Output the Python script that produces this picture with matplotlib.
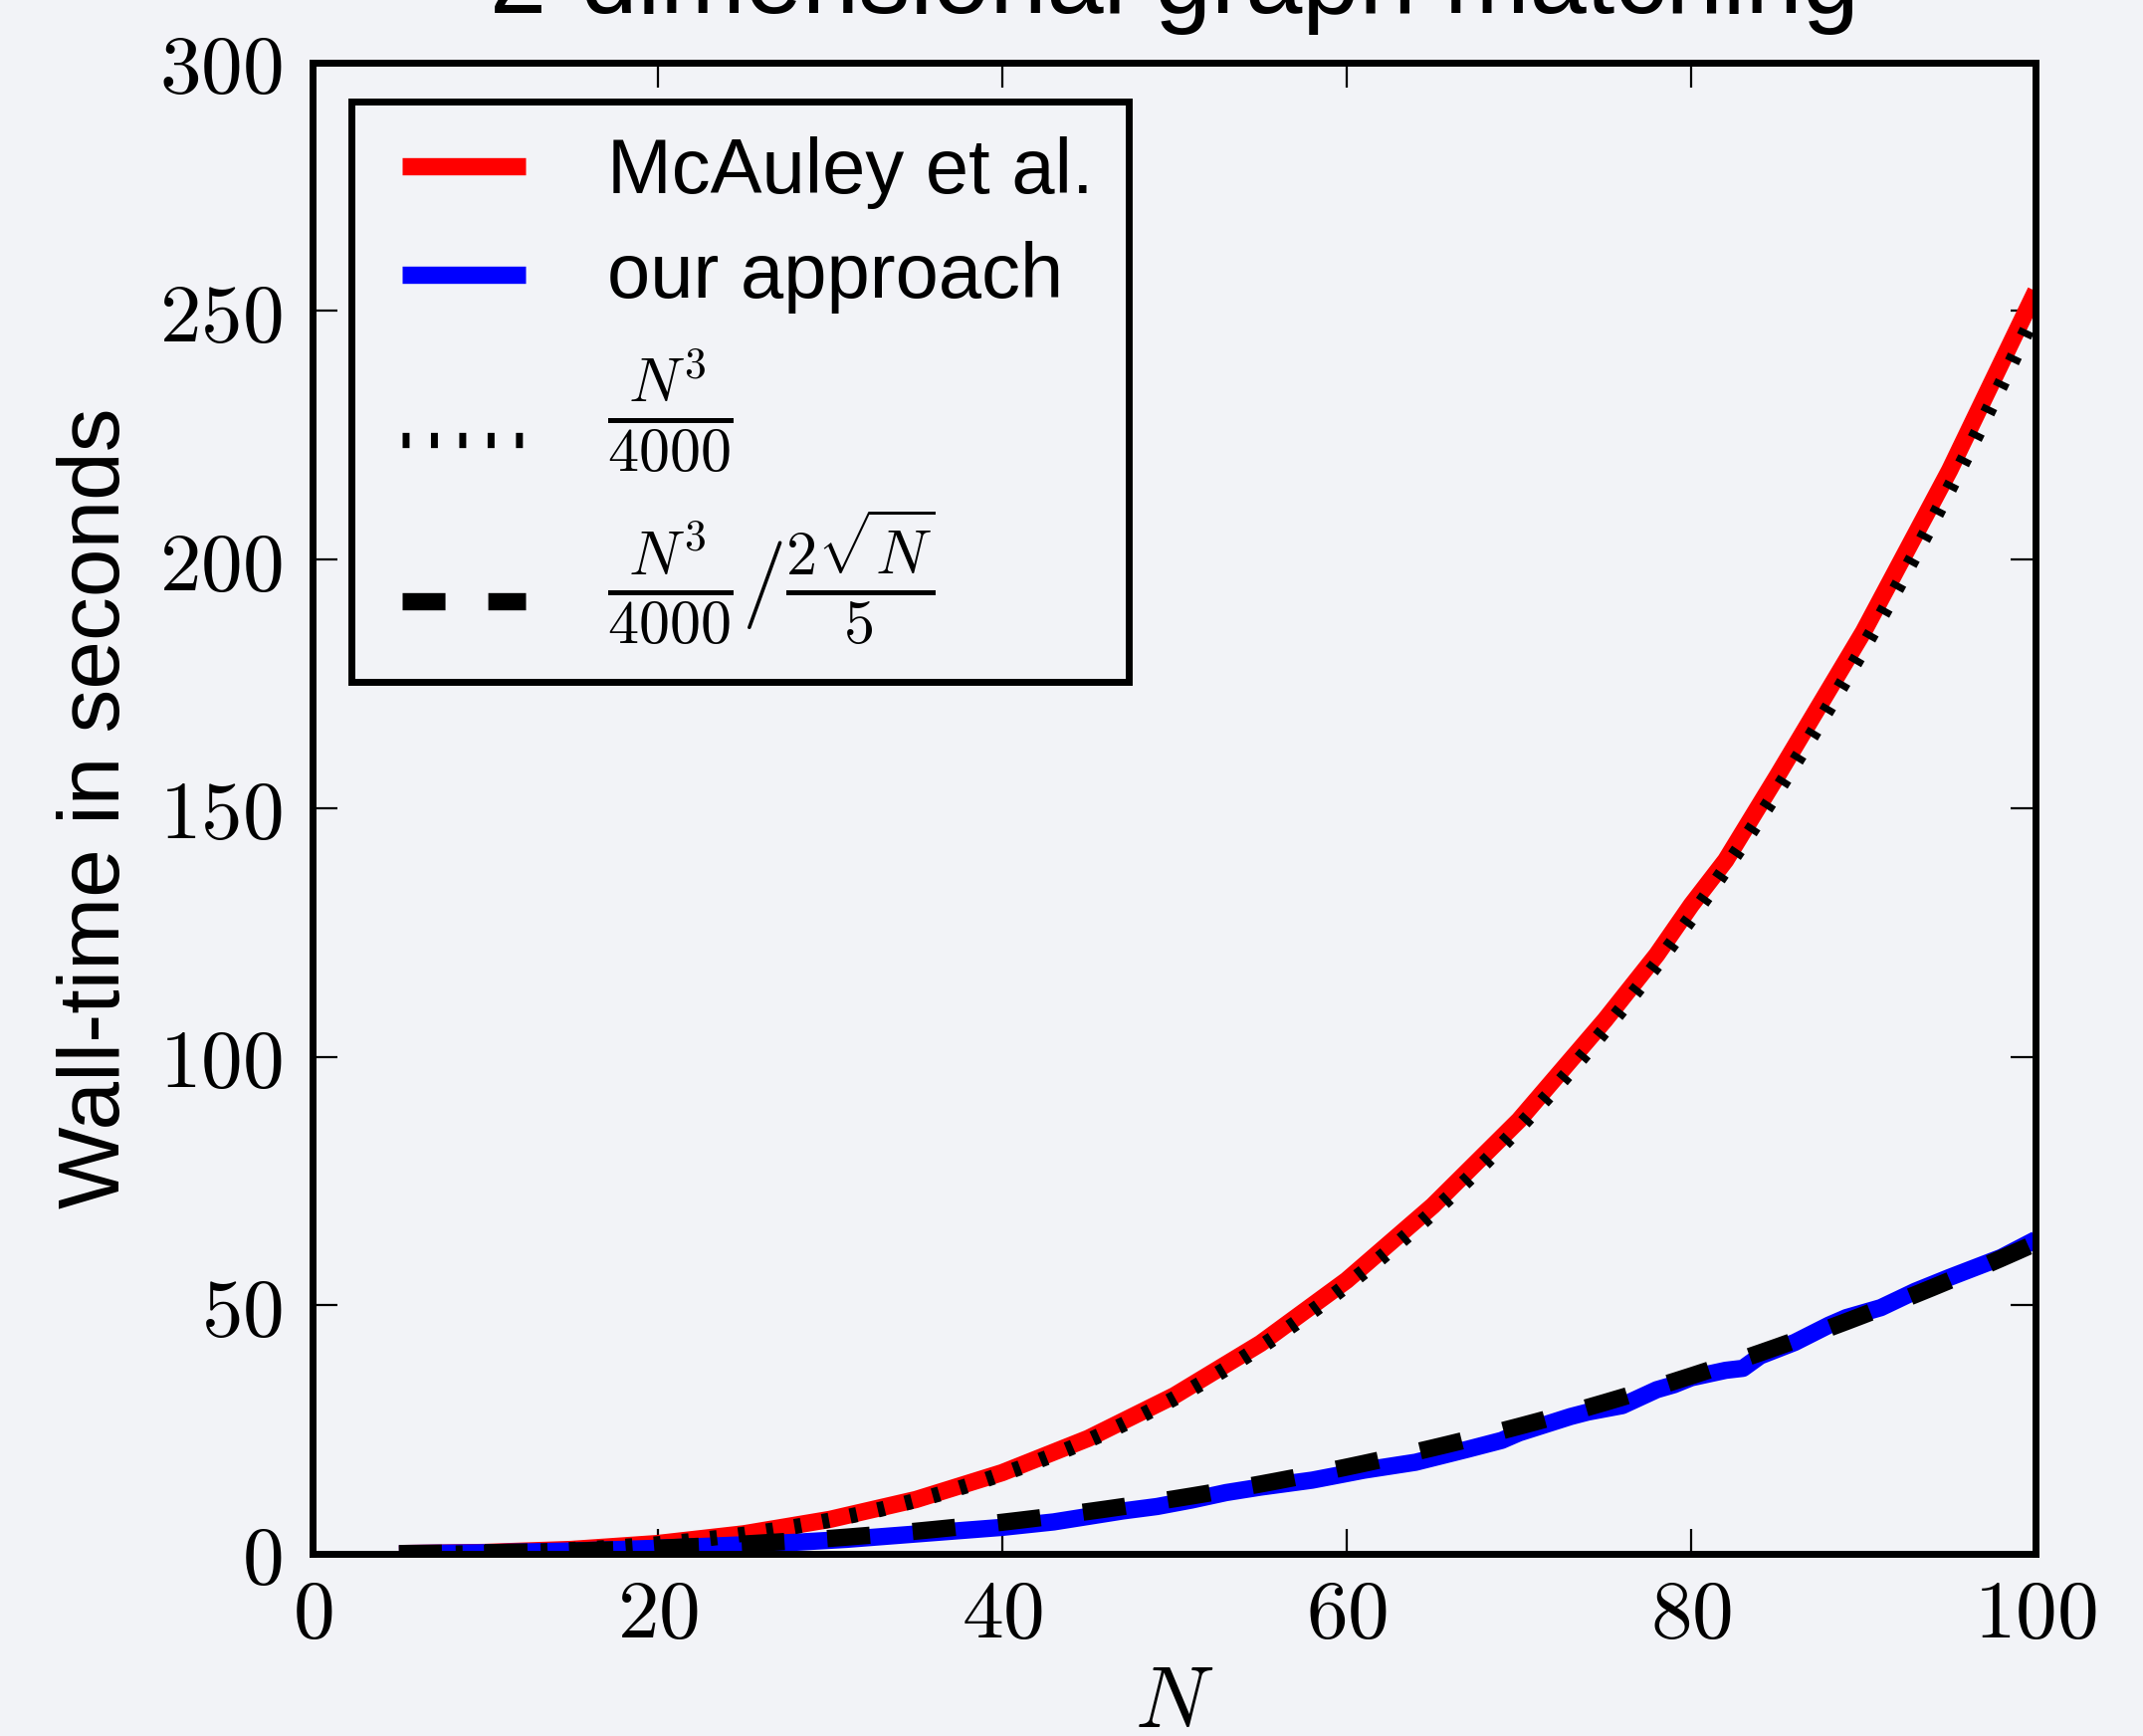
import numpy as np
import matplotlib
matplotlib.use('Agg')
import matplotlib.pyplot as plt
from matplotlib.ticker import FuncFormatter
from matplotlib.legend_handler import HandlerLine2D

plt.rcParams['mathtext.fontset'] = 'cm'
plt.rcParams['font.family'] = ['Liberation Sans', 'DejaVu Sans']
plt.rcParams['lines.scale_dashes'] = False

n_mcauley = [5, 10, 15, 20, 25, 30, 35, 40, 45, 50, 55, 60, 65, 70, 75, 78, 80, 82, 85, 90, 95, 100]
t_mcauley = [0.03, 0.26, 0.86, 2.05, 4.0, 6.9, 10.9, 16.3, 23.2, 31.8, 42.3, 55.0, 70.0, 87.2,
             107.4, 120.5, 130.5, 139.5, 156.5, 185.5, 218.0, 254.0]

n_ours = [5, 10, 15, 20, 25, 28, 31, 34, 37, 40, 43, 45, 47, 49, 51, 53, 55, 58, 61, 64,
          67, 69, 70, 73, 74, 76, 78, 79, 80, 82, 83, 84, 86, 88, 89, 91, 93, 95, 98, 100]
t_ours = [0.03, 0.2, 0.55, 1.1, 1.8, 2.3, 2.9, 3.7, 4.5, 5.3, 6.4, 7.5, 8.6, 9.5, 10.8, 12.3,
          13.4, 14.8, 16.8, 18.4, 21.0, 22.8, 24.3, 27.6, 28.5, 29.8, 33.0, 34.0, 35.4, 36.9,
          37.3, 39.8, 42.5, 46.0, 47.5, 49.5, 52.8, 55.6, 59.6, 63.2]

# model curves given in the legend
n_model = np.arange(5, 101)
cubic = n_model**3 / 4000.0
reduced = cubic / (2 * np.sqrt(n_model) / 5.0)


class ShiftedLine(HandlerLine2D):
    # legend line moved down a little, like the tex-rendered original
    def __init__(self, dy=0, **kw):
        super().__init__(**kw)
        self.dy = dy

    def create_artists(self, legend, orig_handle, xdescent, ydescent, width, height,
                       fontsize, trans):
        arts = super().create_artists(legend, orig_handle, xdescent, ydescent, width,
                                      height, fontsize, trans)
        for a in arts:
            a.set_ydata(np.asarray(a.get_ydata()) - self.dy)
        return arts


bg = '#f2f3f7'
fig = plt.figure(figsize=(21.53, 17.44), dpi=100, facecolor=bg)
ax = fig.add_axes([0.146, 0.105, 0.804, 0.859], facecolor=bg)

lw = 12.5
l1, = ax.plot(n_mcauley, t_mcauley, color='#ff0000', lw=lw, solid_capstyle='butt',
              label='McAuley et al.')
l2, = ax.plot(n_ours, t_ours, color='#0000ff', lw=lw, solid_capstyle='butt',
              label='our approach')
l3, = ax.plot(n_model, cubic, color='black', lw=11, dashes=(5, 15.5), dash_capstyle='butt',
              label=r'$\frac{N^3}{4000}$')
l4, = ax.plot(n_model, reduced, color='black', lw=lw, dashes=(31, 31), dash_capstyle='butt',
              label=r'$\frac{N^3}{4000}/\frac{2\sqrt{N}}{5}$')

ax.set_xlim(0, 100)
ax.set_ylim(0, 300)
ax.set_xticks(np.arange(0, 101, 20))
ax.set_yticks(np.arange(0, 301, 50))
fmt = FuncFormatter(lambda v, p: r'$%d$' % v)
ax.xaxis.set_major_formatter(fmt)
ax.yaxis.set_major_formatter(fmt)
ax.tick_params(direction='in', length=18, width=1.6, labelsize=60,
               top=True, right=True)
ax.tick_params(axis='x', pad=17)
ax.tick_params(axis='y', pad=22)
for s in ax.spines.values():
    s.set_linewidth(5)

ax.set_xlabel(r'$N$', fontsize=63, va='center')
ax.xaxis.set_label_coords(0.5, -0.1015)
ax.set_ylabel('Wall-time in seconds', fontsize=63, va='center')
ax.yaxis.set_label_coords(-0.125, 0.5)

fig.text(0.548, 1 - 13 / 1744, '2-dimensional graph matching', fontsize=74,
         ha='center', va='baseline')

xp = 0.2
leg = ax.legend(loc='upper left', bbox_to_anchor=(0.0225, 0.974), borderaxespad=0,
                fontsize=56, handlelength=1.6 + xp, handletextpad=1.05, labelspacing=0.42,
                borderpad=0.45, fancybox=False, facecolor=bg, framealpha=1,
                handler_map={l1: ShiftedLine(0, xpad=xp), l2: ShiftedLine(3, xpad=xp),
                             l3: ShiftedLine(23, xpad=xp), l4: ShiftedLine(15, xpad=xp)})
for t in leg.get_texts()[2:]:
    t.set_fontsize(64)
leg.get_frame().set_edgecolor('black')
leg.get_frame().set_linewidth(5)

fig.savefig('out.png', dpi=100, facecolor=bg)
